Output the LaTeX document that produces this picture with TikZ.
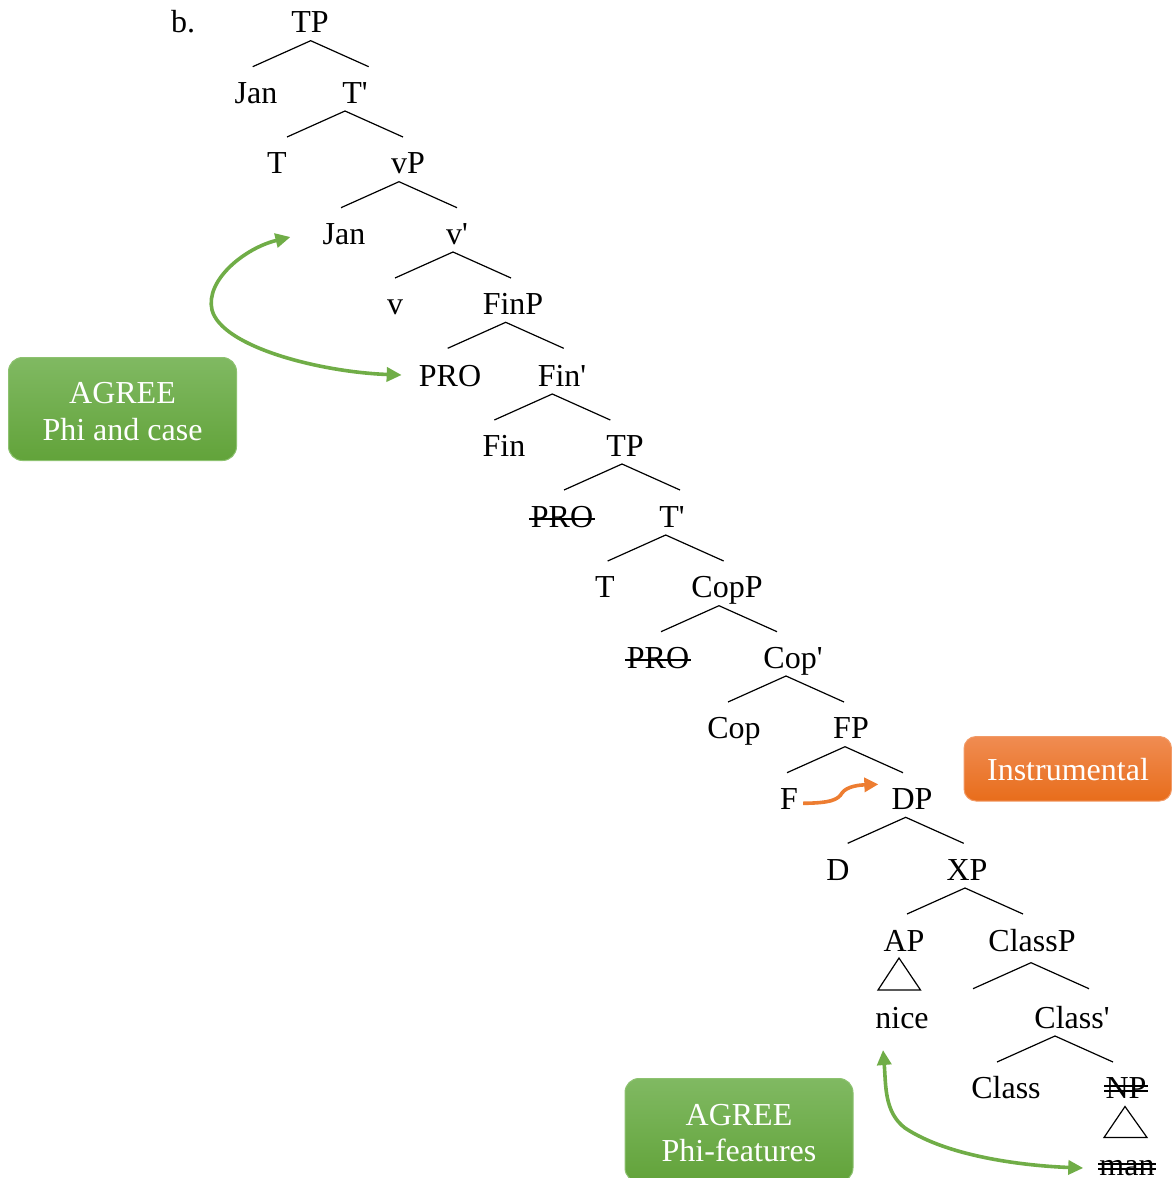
\documentclass[tikz,border=0pt]{standalone}
\usepackage{fontspec}
\setmainfont{Liberation Serif}[Ligatures=TeXOff]
\usetikzlibrary{arrows.meta,calc}
\definecolor{agreen}{HTML}{70AD47}
\definecolor{gtop}{HTML}{80B962}
\definecolor{gbot}{HTML}{62A33A}
\definecolor{gedge}{HTML}{8DC270}
\definecolor{aorange}{HTML}{ED7D31}
\definecolor{otop}{HTML}{F08C52}
\definecolor{obot}{HTML}{E86D1B}
\definecolor{oedge}{HTML}{F29A66}
\newcommand\prm{\char"27\relax}
\tikzset{
  tx/.style={anchor=base, inner sep=0pt, font=\fontsize{32}{38}\selectfont},
  wtx/.style={tx, text=white},
  br/.style={line width=1.2pt, black},
  strk/.style={line width=1.4pt, black},
  garrow/.style={line width=3.6pt, agreen, {Triangle[length=15pt,width=14pt]}-{Triangle[length=15pt,width=14pt]}},
  oarrow/.style={line width=3.6pt, aorange, -{Triangle[length=14pt,width=14pt]}},
  gbox/.style={rounded corners=14pt, top color=gtop, bottom color=gbot, draw=gedge, line width=1pt},
  obox/.style={rounded corners=12pt, top color=otop, bottom color=obot, draw=oedge, line width=1pt},
}
\newcommand\branch[1]{\draw[br] (#1) +(-58,26) -- (#1) -- +(58,26);}
\begin{document}
\begin{tikzpicture}[x=1pt,y=-1pt]
\useasboundingbox (0,0) rectangle (1172,1178);
\clip (0,0) rectangle (1172,1178);
% boxes
\path[gbox] (8.5,357.5) rectangle (236.5,460.5);
\path[obox] (964,736.5) rectangle (1171.5,801);
\path[gbox] (625,1078.5) rectangle (853,1182);
\node[wtx] (b1a) at (122.5,403.3) {AGREE};
\node[wtx] (b1b) at (122.5,440) {Phi and case};
\node[wtx] (b2a) at (1068,780) {Instrumental};
\node[wtx] (b3a) at (739,1125) {AGREE};
\node[wtx] (b3b) at (739,1161) {Phi-features};
% tree labels
\node[tx] (lab) at (183,32.3) {b.};
\node[tx] (tp0) at (310,32.3) {TP};
\node[tx] (jan1) at (256,103) {Jan};
\node[tx] (tb1) at (355,103) {T\prm};
\node[tx] (t1) at (277,173.7) {T};
\node[tx] (vp) at (408,173.7) {vP};
\node[tx] (jan2) at (344,244) {Jan};
\node[tx] (vb) at (457,244) {v\prm};
\node[tx] (v) at (395,314.3) {v};
\node[tx] (finp) at (513,314.3) {FinP};
\node[tx] (pro1) at (450,386) {PRO};
\node[tx] (finb) at (562,386) {Fin\prm};
\node[tx] (fin) at (504,456) {Fin};
\node[tx] (tp2) at (625,456) {TP};
\node[tx] (pro2) at (562,527) {PRO};
\node[tx] (tb2) at (672,527) {T\prm};
\node[tx] (t2) at (605,597.7) {T};
\node[tx] (copp) at (727,597.7) {CopP};
\node[tx] (pro3) at (658,668) {PRO};
\node[tx] (copb) at (793,668) {Cop\prm};
\node[tx] (cop) at (734,738.7) {Cop};
\node[tx] (fp) at (851,738.7) {FP};
\node[tx] (f) at (789,809.3) {F};
\node[tx] (dp) at (912,809.3) {DP};
\node[tx] (d) at (838,880) {D};
\node[tx] (xp) at (967,880) {XP};
\node[tx] (ap) at (904,951) {AP};
\node[tx] (classp) at (1032,951) {ClassP};
\node[tx] (nice) at (902,1028) {nice};
\node[tx] (classb) at (1072,1028) {Class\prm};
\node[tx] (class) at (1006,1098) {Class};
\node[tx] (np) at (1126,1098) {NP};
\node[tx] (man) at (1127,1175) {man};
% branch apexes
\coordinate (a1) at (310.7,40.7);
\coordinate (a2) at (345,111);
\coordinate (a3) at (399,181.7);
\coordinate (a4) at (453,252);
\coordinate (a5) at (505.7,322.3);
\coordinate (a6) at (552.3,394);
\coordinate (a7) at (622,464);
\coordinate (a8) at (665.7,535);
\coordinate (a9) at (719,605.7);
\coordinate (a10) at (786,676);
\coordinate (a11) at (845,746.7);
\coordinate (a12) at (905.7,817.3);
\coordinate (a13) at (965,888);
\coordinate (a14) at (1031,962.7);
\coordinate (a15) at (1055,1036);
\branch{a1}\branch{a2}\branch{a3}\branch{a4}\branch{a5}
\branch{a6}\branch{a7}\branch{a8}\branch{a9}\branch{a10}
\branch{a11}\branch{a12}\branch{a13}\branch{a14}\branch{a15}
% triangles
\coordinate (ta1) at (899,958);
\coordinate (ta2) at (878,990);
\coordinate (ta3) at (920.5,990);
\draw[br] (ta1) -- (ta2) -- (ta3) -- cycle;
\coordinate (tn1) at (1125,1106.5);
\coordinate (tn2) at (1104,1137.5);
\coordinate (tn3) at (1147,1137.5);
\draw[br] (tn1) -- (tn2) -- (tn3) -- cycle;
% strike-throughs
\draw[strk] ([xshift=-1.5pt,yshift=8pt]pro2.base west) -- ([xshift=1.5pt,yshift=8pt]pro2.base east);
\draw[strk] ([xshift=-1.5pt,yshift=8pt]pro3.base west) -- ([xshift=1.5pt,yshift=8pt]pro3.base east);
\draw[strk] ([xshift=-1pt,yshift=7pt]np.base west) -- ([xshift=1pt,yshift=7pt]np.base east);
\draw[strk] ([xshift=-1pt,yshift=12pt]np.base west) -- ([xshift=1pt,yshift=12pt]np.base east);
\draw[strk] ([xshift=-1pt,yshift=6pt]man.base west) -- ([xshift=1pt,yshift=6pt]man.base east);
\draw[strk] ([xshift=-1pt,yshift=11pt]man.base west) -- ([xshift=1pt,yshift=11pt]man.base east);
% arrows
\draw[garrow] ([xshift=-32pt,yshift=7pt]jan2.base west) .. controls (245,248) and (205,280) .. (212,310)
  .. controls (222,347) and (320,372) .. ([xshift=-17pt,yshift=11pt]pro1.base west);
\draw[garrow] ([xshift=-19pt,yshift=-22pt]nice.base) .. controls (886,1085) and (884,1112) .. (905,1128)
  .. controls (950,1158) and (1030,1166) .. ([xshift=-16pt,yshift=7pt]man.base west);
\draw[oarrow] ([xshift=5pt,yshift=6pt]f.base east) .. controls (830,803) and (838,800) .. (842,793)
  .. controls (847,786) and (860,785) .. ([xshift=-13pt,yshift=25pt]dp.base west);
\end{tikzpicture}
\end{document}
